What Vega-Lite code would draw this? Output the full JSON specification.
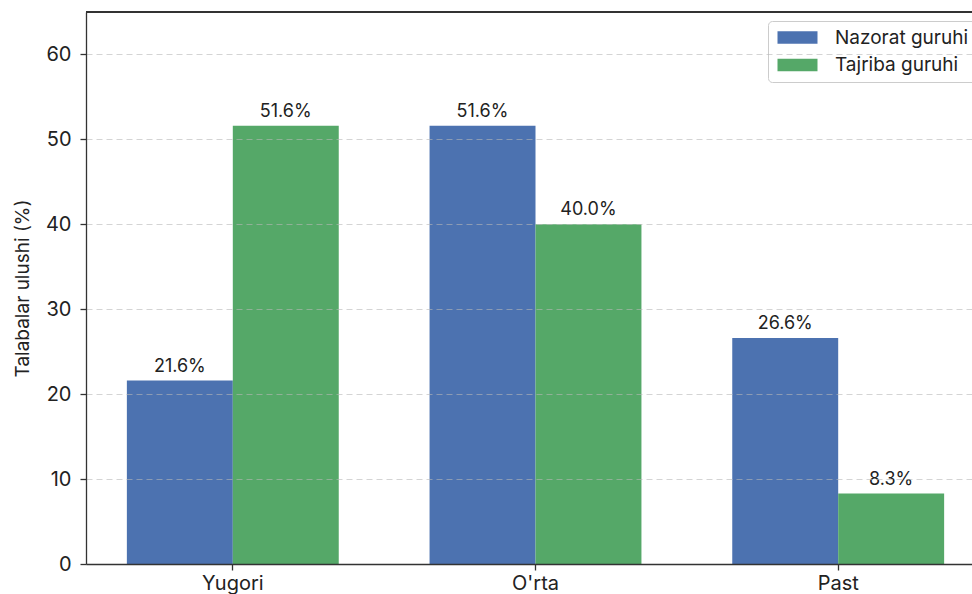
{
  "$schema": "https://vega.github.io/schema/vega-lite/v6.json",
  "autosize": "none",
  "padding": {"left": 86, "top": 12, "right": -13, "bottom": 30},
  "width": 899,
  "height": 552,
  "background": "white",
  "data": {
    "values": [
      {"level": "Yugori", "group": "Nazorat guruhi", "value": 21.6},
      {"level": "Yugori", "group": "Tajriba guruhi", "value": 51.6},
      {"level": "O'rta", "group": "Nazorat guruhi", "value": 51.6},
      {"level": "O'rta", "group": "Tajriba guruhi", "value": 40.0},
      {"level": "Past", "group": "Nazorat guruhi", "value": 26.6},
      {"level": "Past", "group": "Tajriba guruhi", "value": 8.3}
    ]
  },
  "transform": [
    {"calculate": "format(datum.value, '.1f') + '%'", "as": "label"}
  ],
  "encoding": {
    "x": {
      "field": "level",
      "type": "nominal",
      "sort": ["Yugori", "O'rta", "Past"],
      "scale": {"paddingInner": 0.3, "paddingOuter": 0.135},
      "axis": {
        "title": null,
        "labelAngle": 0,
        "labelFont": "Inter",
        "labelFontSize": 20,
        "labelColor": "#222",
        "labelPadding": 3,
        "tickSize": 6,
        "tickColor": "#333",
        "domain": true,
        "domainColor": "#333",
        "domainWidth": 1.3,
        "grid": false,
        "zindex": 1
      }
    },
    "xOffset": {
      "field": "group",
      "type": "nominal",
      "scale": {"paddingInner": 0, "paddingOuter": 0}
    },
    "y": {
      "field": "value",
      "type": "quantitative",
      "scale": {"domain": [0, 65], "nice": false},
      "axis": {
        "title": "Talabalar ulushi (%)",
        "titleFont": "Inter",
        "titleFontSize": 19,
        "titleFontWeight": "normal",
        "titleColor": "#222",
        "titlePadding": 13,
        "values": [0, 10, 20, 30, 40, 50, 60],
        "labelFont": "Inter",
        "labelFontSize": 20,
        "labelColor": "#222",
        "labelPadding": 9,
        "tickSize": 6,
        "tickColor": "#333",
        "domain": true,
        "domainColor": "#333",
        "domainWidth": 1.3,
        "grid": true,
        "gridColor": "#b8b8b8",
        "gridOpacity": 0.6,
        "gridDash": [6, 4],
        "gridWidth": 1,
        "zindex": 1
      }
    }
  },
  "layer": [
    {
      "mark": {"type": "bar"},
      "encoding": {
        "color": {
          "field": "group",
          "type": "nominal",
          "scale": {"domain": ["Nazorat guruhi", "Tajriba guruhi"], "range": ["#4C72B0", "#55A868"]},
          "legend": {
            "title": null,
            "orient": "none",
            "legendX": 682,
            "legendY": 9,
            "symbolType": "M-2.222,-0.694H2.222V0.694H-2.222Z",
            "symbolSize": 324,
            "symbolOffset": 13,
            "symbolStrokeWidth": 0,
            "symbolOpacity": 1,
            "labelFont": "Inter",
            "labelFontSize": 19,
            "labelColor": "#222",
            "labelOffset": 28,
            "rowPadding": 7.5,
            "padding": 7,
            "fillColor": "white",
            "strokeColor": "#cccccc",
            "cornerRadius": 4
          }
        }
      }
    },
    {
      "mark": {"type": "text", "baseline": "alphabetic", "dy": -9, "font": "Inter", "fontSize": 18, "color": "#222"},
      "encoding": {
        "text": {"field": "label"}
      }
    },
    {
      "mark": {"type": "rule", "color": "#333", "strokeWidth": 1.3},
      "encoding": {
        "y": {"datum": 65},
        "x": null,
        "xOffset": null
      }
    }
  ],
  "config": {
    "view": {"stroke": null},
    "axis": {"tickWidth": 1.3}
  }
}
